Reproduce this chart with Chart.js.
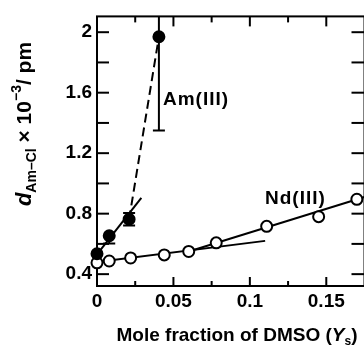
<!DOCTYPE html>
<html><head><meta charset="utf-8">
<script src="https://cdn.jsdelivr.net/npm/chart.js@4"></script>
<style>
html,body{margin:0;padding:0;background:#fff;overflow:hidden;width:364px;height:348px}
#wrap{position:absolute;left:0;top:0;width:372px;height:348px}
</style>
</head><body><div id="wrap"><canvas id="c" width="372" height="348"></canvas></div>
<script>
// ---- data ----
const amX = [0, 0.008, 0.021, 0.0405];
const amY = [0.535, 0.654, 0.763, 1.97];
const amErrLow = [0, 0.052, 0.042, 0.62];
const amErrHigh = [0, 0, 0.042, 0.62];
const ndX = [0, 0.008, 0.022, 0.044, 0.06, 0.078, 0.111, 0.145, 0.170];
const ndY = [0.475, 0.487, 0.507, 0.527, 0.55, 0.607, 0.716, 0.78, 0.895];
const amFitX = [0, 0.029];
const amFitY = [0.53, 0.905];
const amDashX = [0.021, 0.0405];
const amDashY = [0.763, 1.97];
const ndFit1X = [0, 0.11];
const ndFit1Y = [0.48, 0.62];
const ndFit2X = [0.06, 0.175];
const ndFit2Y = [0.55, 0.91];
const xTicks = [0, 0.05, 0.1, 0.15];
const xMinor = [0.025, 0.075, 0.125];
const yTicks = [0.4, 0.8, 1.2, 1.6, 2];
const yMinor = [0.6, 1.0, 1.4, 1.8];
const seriesLabels = ['Am(III)', 'Nd(III)'];
const xTitle = ['Mole fraction of DMSO (', 'Y', 's', ')'];
const yTitle = ['d', 'Am\u2013Cl', ' \u00d7 10', '\u22123', '/ pm'];

const pts = (xs, ys) => xs.map((x, i) => ({x, y: ys[i]}));
const FONT = '"Liberation Sans", Arial, sans-serif';

const framePlugin = {
  id: 'frame',
  beforeDatasetsDraw(chart) {
    const {ctx, chartArea: a, scales: {x, y}} = chart;
    ctx.save();
    ctx.strokeStyle = '#000';
    ctx.lineWidth = 2;
    ctx.strokeRect(a.left, a.top, a.right - a.left, a.bottom - a.top);
    const seg = (x1, y1, x2, y2) => { ctx.beginPath(); ctx.moveTo(x1, y1); ctx.lineTo(x2, y2); ctx.stroke(); };
    xTicks.forEach(v => { const p = x.getPixelForValue(v); seg(p, a.bottom, p, a.bottom - 9); seg(p, a.top, p, a.top + 10); });
    xMinor.forEach(v => { const p = x.getPixelForValue(v); seg(p, a.bottom, p, a.bottom - 5); seg(p, a.top, p, a.top + 6); });
    yTicks.concat(yMinor).forEach(v => { const p = y.getPixelForValue(v); seg(a.left, p, a.left + 12, p); seg(a.right, p, a.right - 13, p); });
    // error bars
    ctx.beginPath(); ctx.rect(a.left, a.top, a.right - a.left, a.bottom - a.top); ctx.clip();
    amX.forEach((xv, i) => {
      const px = x.getPixelForValue(xv);
      if (amErrLow[i] > 0) { const py = y.getPixelForValue(amY[i] - amErrLow[i]); seg(px, y.getPixelForValue(amY[i]), px, py); seg(px - 6, py, px + 6, py); }
      if (amErrHigh[i] > 0) { const py = y.getPixelForValue(amY[i] + amErrHigh[i]); seg(px, y.getPixelForValue(amY[i]), px, py); seg(px - 6, py, px + 6, py); }
    });
    ctx.restore();
  },
  afterDraw(chart) {
    const {ctx, scales: {x, y}} = chart;
    ctx.save();
    ctx.fillStyle = '#000';
    ctx.textBaseline = 'middle';
    ctx.font = 'bold 19px ' + FONT;
    try { ctx.letterSpacing = '1px'; } catch (e) {}
    ctx.textAlign = 'left';
    ctx.fillText(seriesLabels[0], 163, 100);
    ctx.fillText(seriesLabels[1], 265, 199);
    try { ctx.letterSpacing = '0px'; } catch (e) {}
    // x title
    ctx.textBaseline = 'alphabetic';
    const parts = [
      {t: xTitle[0], f: 'bold 19px ' + FONT, dy: 0},
      {t: xTitle[1], f: 'italic bold 19px ' + FONT, dy: 0},
      {t: xTitle[2], f: 'bold 12px ' + FONT, dy: 4},
      {t: xTitle[3], f: 'bold 19px ' + FONT, dy: 0}
    ];
    let tw = 0;
    parts.forEach(p => { ctx.font = p.f; p.w = ctx.measureText(p.t).width; tw += p.w; });
    let cx = 237 - tw / 2;
    parts.forEach(p => { ctx.font = p.f; ctx.fillText(p.t, cx, 341 + p.dy); cx += p.w; });
    // y title (rotated)
    const yp = [
      {t: yTitle[0], f: 'italic bold 22px ' + FONT, dy: 0},
      {t: yTitle[1], f: 'bold 14px ' + FONT, dy: 5},
      {t: yTitle[2], f: 'bold 21px ' + FONT, dy: 0},
      {t: yTitle[3], f: 'bold 14px ' + FONT, dy: -10},
      {t: yTitle[4], f: 'bold 21px ' + FONT, dy: 0}
    ];
    let th = 0;
    yp.forEach(p => { ctx.font = p.f; p.w = ctx.measureText(p.t).width; th += p.w; });
    ctx.translate(31, 124 + th / 2);
    ctx.rotate(-Math.PI / 2);
    let cy = 0;
    yp.forEach(p => { ctx.font = p.f; ctx.fillText(p.t, cy, p.dy); cy += p.w; });
    ctx.restore();
  }
};

const lineDs = (xs, ys, dash) => ({
  data: pts(xs, ys), showLine: true, borderColor: '#000', borderWidth: 2,
  borderDash: dash || [], pointRadius: 0, fill: false
});

new Chart(document.getElementById('c'), {
  type: 'scatter',
  data: {
    datasets: [
      {data: pts(amX, amY), pointRadius: 5.5, pointBackgroundColor: '#000', pointBorderColor: '#000', pointBorderWidth: 2, showLine: false, clip: false},
      {data: pts(ndX, ndY), pointRadius: 5.5, pointBackgroundColor: '#fff', pointBorderColor: '#000', pointBorderWidth: 2, showLine: false, clip: false},
      lineDs(amFitX, amFitY),
      lineDs(amDashX, amDashY, [9, 5]),
      lineDs(ndFit1X, ndFit1Y),
      lineDs(ndFit2X, ndFit2Y)
    ]
  },
  options: {
    responsive: false, animation: false, devicePixelRatio: 1,
    layout: {padding: {left: 0, top: 13, right: 4, bottom: 0}},
    plugins: {legend: {display: false}, tooltip: {enabled: false}},
    scales: {
      x: {
        type: 'linear', min: 0, max: 0.175,
        grid: {display: false, drawTicks: false}, border: {display: false},
        afterFit(s) { s.height = 62; },
        afterBuildTicks(s) { s.ticks = xTicks.map(v => ({value: v})); },
        ticks: {padding: 4, color: '#000', maxRotation: 0, autoSkip: false, font: {family: FONT, size: 19, weight: 'bold'}, callback: v => String(v)}
      },
      y: {
        type: 'linear', min: 0.3216, max: 2.1045,
        grid: {display: false, drawTicks: false}, border: {display: false},
        afterFit(s) { s.width = 97; },
        afterBuildTicks(s) { s.ticks = yTicks.map(v => ({value: v})); },
        ticks: {padding: 5, color: '#000', autoSkip: false, font: {family: FONT, size: 19, weight: 'bold'}, callback: v => String(v)}
      }
    }
  },
  plugins: [framePlugin]
});
</script>
</body></html>
